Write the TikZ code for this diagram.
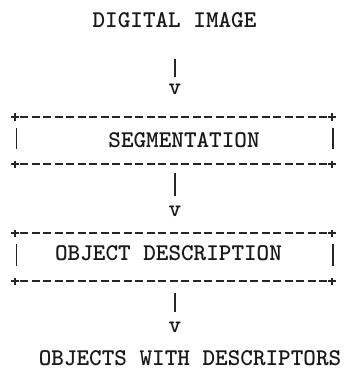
\documentclass[tikz,border=0pt]{standalone}
\usepackage{fontspec}
\begin{document}
\begin{tikzpicture}[x=1pt,y=-1pt,
  txt/.style={font=\ttfamily\bfseries\fontsize{24}{24}\selectfont, inner sep=0pt, outer sep=0pt, text=black!90},
  asciibox/.style={rectangle, draw=none, inner sep=0pt, outer sep=0pt, minimum width=317pt},
  dashrule/.style={line width=1.4pt, dash pattern=on 8pt off 3.5pt, black!85},
  sidebar/.style={line width=1.5pt, black!85},
  conn/.style={line width=1.5pt, black!85},
  cornerplus/.pic={\draw[line width=1.5pt, black!85] (-4,0)--(4,0) (0,-3.5)--(0,3.5);}
]
\useasboundingbox (0,0) rectangle (353,385);

% nodes
\node[txt] (img) at (174.5,20.5) {DIGITAL IMAGE};
\node[txt] (v1) at (175,89.5) {v};
\node[asciibox, minimum height=47pt] (seg) at (173.5,140.5) {};
\node[txt] at (184,140) {SEGMENTATION};
\node[txt] (v2) at (175,211) {v};
\node[asciibox, minimum height=48pt] (desc) at (173.5,257) {};
\node[txt] at (168.5,253.5) {OBJECT DESCRIPTION};
\node[txt] (v3) at (175,327) {v};
\node[txt] (out) at (190,358.5) {OBJECTS WITH DESCRIPTORS};

% boxes drawn in the ASCII manner
\foreach \b in {seg,desc}{
  \draw[dashrule] ([xshift=5pt]\b.north west) -- ([xshift=-5pt]\b.north east);
  \draw[dashrule] ([xshift=5pt]\b.south west) -- ([xshift=-5pt]\b.south east);
  \pic at (\b.north west) {cornerplus};
  \pic at (\b.north east) {cornerplus};
  \pic at (\b.south west) {cornerplus};
  \pic at (\b.south east) {cornerplus};
  \draw[sidebar] ([xshift=1.5pt,yshift=-11pt]\b.north west) -- ([xshift=1.5pt,yshift=15pt]\b.south west);
  \draw[sidebar] ([xshift=1pt,yshift=-11pt]\b.north east) -- ([xshift=1pt,yshift=15pt]\b.south east);
}

% connectors
\draw[conn, shorten <=31pt, shorten >=7pt] (img.south -| v1.north) -- (v1.north);
\draw[conn, shorten <=9pt, shorten >=10pt] (seg.south -| v2.north) -- (v2.north);
\draw[conn, shorten <=12pt, shorten >=10pt] (desc.south -| v3.north) -- (v3.north);
\end{tikzpicture}
\end{document}
